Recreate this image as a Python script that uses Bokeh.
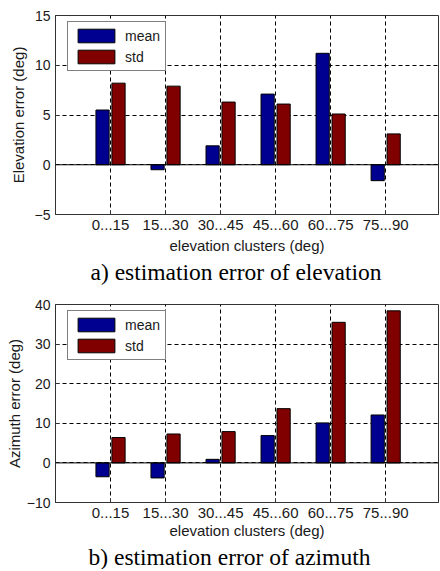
from bokeh.plotting import figure
from bokeh.models import ColumnDataSource, FixedTicker, Range1d, Span, Legend, LegendItem
from bokeh.layouts import column
from bokeh.embed import file_html
from bokeh.resources import INLINE

categories = ["0...15", "15...30", "30...45", "45...60", "60...75", "75...90"]
elev_mean = [5.5, -0.5, 1.9, 7.1, 11.2, -1.6]
elev_std = [8.2, 7.9, 6.3, 6.1, 5.1, 3.1]
azim_mean = [-3.5, -3.8, 0.9, 6.9, 10.1, 12.1]
azim_std = [6.4, 7.3, 7.9, 13.7, 35.5, 38.4]
elev_ticks = [-5, 0, 5, 10, 15]
azim_ticks = [-10, 0, 10, 20, 30, 40]

MEAN_COLOR = "#000090"
STD_COLOR = "#800000"
TXT = "#1a1a1a"


def make_panel(mean, std, yticks, ylabel, caption, top_border, frame_h, bottom_border,
               label_standoff, cap_offset, xlabel_standoff):
    pos = [i + 1 for i in range(len(categories))]
    p = figure(frame_width=383, frame_height=frame_h,
               x_range=Range1d(0, 6.96), y_range=Range1d(yticks[0], yticks[-1]),
               output_backend="svg", toolbar_location=None,
               min_border_left=55, min_border_right=2,
               min_border_top=top_border, min_border_bottom=bottom_border)
    src = ColumnDataSource(dict(xm=[x - 0.145 for x in pos], xs=[x + 0.145 for x in pos],
                                mean=mean, std=std))
    rm = p.vbar(x="xm", top="mean", bottom=0, width=0.24, source=src,
                fill_color=MEAN_COLOR, line_color="black", line_width=1)
    rs = p.vbar(x="xs", top="std", bottom=0, width=0.24, source=src,
                fill_color=STD_COLOR, line_color="black", line_width=1)
    p.add_layout(Span(location=0, dimension="width", line_color="black", line_width=1))

    p.xaxis.ticker = FixedTicker(ticks=pos)
    p.xaxis.major_label_overrides = {x: c for x, c in zip(pos, categories)}
    p.yaxis.ticker = FixedTicker(ticks=yticks)
    p.xgrid.ticker = FixedTicker(ticks=pos)
    p.ygrid.ticker = FixedTicker(ticks=yticks)
    for g in (p.xgrid, p.ygrid):
        g.grid_line_color = "black"
        g.grid_line_dash = "4 3"
        g.grid_line_width = 1
        g.grid_line_alpha = 1.0

    for ax in (p.xaxis, p.yaxis):
        ax.major_tick_in = 4
        ax.major_tick_out = 0
        ax.minor_tick_line_color = None
        ax.axis_line_color = "#333333"
        ax.major_tick_line_color = "#333333"
        ax.major_label_text_font = "Liberation Sans"
        ax.major_label_text_font_size = "14px"
        ax.major_label_text_color = TXT
        ax.axis_label_text_font = "Liberation Sans"
        ax.axis_label_text_font_size = "15px"
        ax.axis_label_text_font_style = "normal"
        ax.axis_label_text_color = TXT
        ax.major_label_standoff = 5
    p.xaxis.major_label_text_font_size = "15px"
    p.xaxis.major_label_standoff = 5
    p.xaxis.axis_label = "elevation clusters (deg)"
    p.xaxis.axis_label_standoff = xlabel_standoff
    p.yaxis.axis_label = ylabel
    p.yaxis.axis_label_standoff = label_standoff

    p.outline_line_color = "#333333"
    p.outline_line_width = 1

    legend = Legend(items=[LegendItem(label="mean", renderers=[rm]),
                           LegendItem(label="std", renderers=[rs])],
                    location="top_left", margin=0, padding=5, spacing=4,
                    glyph_width=46, glyph_height=17, label_height=17,
                    label_standoff=6, label_text_font="Liberation Sans",
                    label_text_font_size="14px", label_text_color=TXT,
                    border_line_color="black", border_line_width=1,
                    background_fill_alpha=1.0)
    legend.location = (12, frame_h - 8 - 48)
    p.add_layout(legend)

    p.title.text = caption
    p.title_location = "below"
    p.title.text_font = "Liberation Serif"
    p.title.text_font_size = "23.5px"
    p.title.text_font_style = "normal"
    p.title.text_color = "black"
    p.title.align = "left"
    p.title.offset = cap_offset
    p.title.standoff = 0
    p.title.text_line_height = 1.0
    return p


p1 = make_panel(elev_mean, elev_std, elev_ticks, "Elevation error (deg)",
                "a) estimation error of elevation", 15, 199, 76, 5, 35, 4)
p2 = make_panel(azim_mean, azim_std, azim_ticks, "Azimuth error (deg)",
                "b) estimation error of azimuth", 14, 198, 66, 1, 33, 1)

layout = column(p1, p2, spacing=0)
open("out.html", "w").write(file_html(layout, INLINE))
